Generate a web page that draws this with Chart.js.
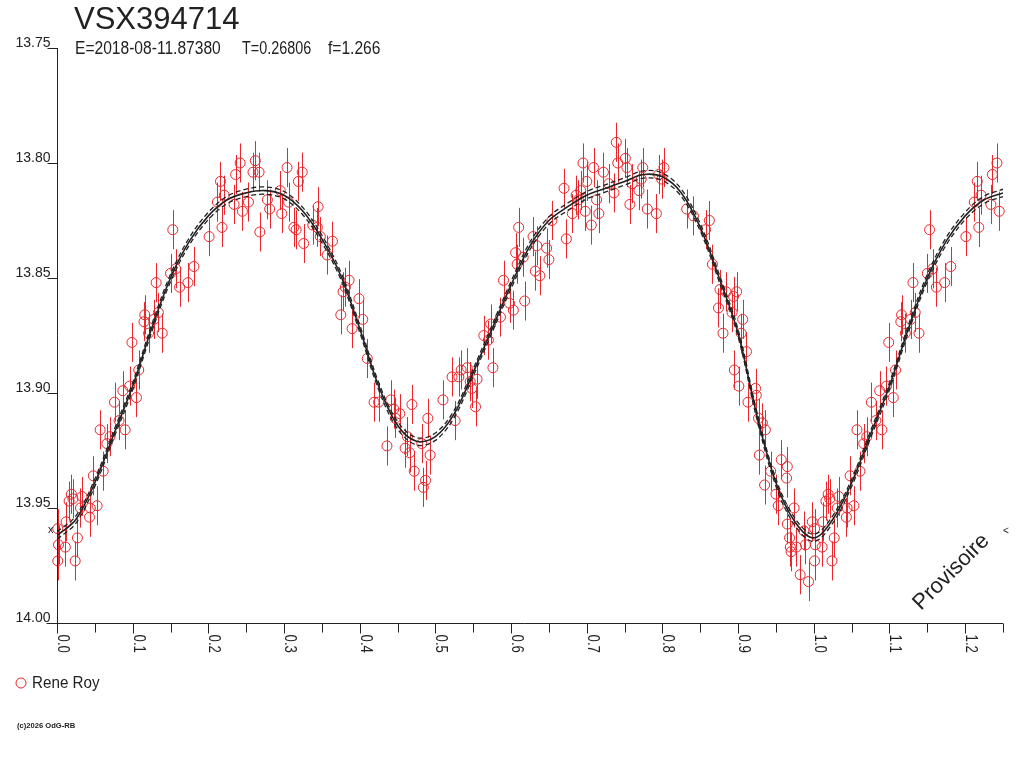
<!DOCTYPE html>
<html>
<head>
<meta charset="utf-8">
<title>VSX394714</title>
<script src="https://cdn.jsdelivr.net/npm/chart.js@4.4.1/dist/chart.umd.min.js"></script>
<style>
  html, body { margin: 0; padding: 0; background: #fff; }
  #wrap { position: relative; width: 1024px; height: 768px; }
</style>
</head>
<body>
<div id="wrap"><canvas id="lc" width="1024" height="768"></canvas></div>
<script>
// --- texts ---
const starName = 'VSX394714'
const ephemParts = ['E=2018-08-11.87380', 'T=0.26806', 'f=1.266']
const observer = 'Rene Roy'
const stamp = '(c)2026 OdG-RB'
const watermark = 'Provisoire'

const obsPhase = [
  0.001,0.002,0.001,0.012,0.011,0.016,0.019,0.021,0.027,0.024,
  0.033,0.031,0.043,0.044,0.053,0.048,0.061,0.057,0.066,0.070,
  0.076,0.082,0.090,0.087,0.096,0.105,0.099,0.108,0.116,0.115,
  0.121,0.128,0.134,0.139,0.131,0.150,0.157,0.162,0.173,0.181,
  0.153,0.201,0.212,0.216,0.221,0.218,0.236,0.234,0.242,0.245,
  0.253,0.259,0.262,0.267,0.268,0.278,0.281,0.297,0.304,0.324,
  0.319,0.295,0.306,0.345,0.313,0.316,0.326,0.338,0.344,0.348,
  0.364,0.357,0.381,0.386,0.378,0.375,0.399,0.404,0.390,0.410,
  0.419,0.425,0.441,0.445,0.453,0.447,0.436,0.460,0.466,0.463,
  0.469,0.472,0.482,0.487,0.484,0.493,0.490,0.510,0.522,0.526,
  0.531,0.534,0.542,0.548,0.553,0.555,0.546,0.576,0.564,0.570,
  0.573,0.586,0.590,0.598,0.603,0.606,0.608,0.610,0.618,0.616,
  0.629,0.632,0.638,0.634,0.647,0.650,0.654,0.673,0.670,0.681,
  0.686,0.689,0.692,0.695,0.700,0.698,0.706,0.709,0.713,0.716,
  0.722,0.729,0.736,0.739,0.741,0.751,0.753,0.757,0.760,0.769,
  0.772,0.774,0.780,0.792,0.795,0.799,0.802,0.832,0.841,0.862,
  0.857,0.866,0.876,0.884,0.874,0.880,0.894,0.898,0.892,0.906,
  0.904,0.911,0.895,0.901,0.923,0.924,0.913,0.927,0.932,0.936,
  0.928,0.943,0.935,0.957,0.965,0.964,0.950,0.953,0.974,0.965,
  0.968,0.969,0.977,0.970,0.982,0.993,0.987,0.998,0.989
]
const obsMag = [
  13.959,13.966,13.973,13.956,13.967,13.947,13.944,13.946,13.963,13.973,
  13.945,13.950,13.954,13.950,13.949,13.936,13.934,13.916,13.922,13.919,
  13.904,13.912,13.916,13.899,13.897,13.902,13.878,13.890,13.866,13.869,
  13.874,13.868,13.865,13.874,13.852,13.848,13.846,13.854,13.852,13.845,
  13.829,13.832,13.817,13.808,13.814,13.828,13.805,13.818,13.800,13.821,
  13.817,13.804,13.799,13.804,13.830,13.816,13.820,13.822,13.802,13.804,
  13.808,13.812,13.817,13.819,13.828,13.829,13.835,13.827,13.828,13.832,
  13.834,13.840,13.854,13.851,13.856,13.866,13.859,13.868,13.872,13.885,
  13.904,13.904,13.903,13.907,13.909,13.911,13.923,13.924,13.926,13.919,
  13.905,13.934,13.922,13.938,13.941,13.927,13.911,13.903,13.893,13.912,
  13.893,13.890,13.889,13.898,13.906,13.894,13.895,13.889,13.875,13.877,
  13.870,13.867,13.851,13.861,13.864,13.839,13.844,13.828,13.860,13.841,
  13.832,13.847,13.849,13.836,13.837,13.842,13.825,13.833,13.811,13.822,
  13.814,13.816,13.812,13.800,13.808,13.821,13.827,13.802,13.816,13.822,
  13.804,13.809,13.813,13.791,13.800,13.798,13.802,13.818,13.809,13.812,
  13.807,13.802,13.820,13.822,13.805,13.807,13.802,13.820,13.823,13.825,
  13.829,13.844,13.855,13.856,13.863,13.874,13.858,13.856,13.865,13.868,
  13.874,13.882,13.890,13.897,13.898,13.901,13.904,13.911,13.913,13.916,
  13.927,13.934,13.940,13.929,13.932,13.937,13.944,13.949,13.950,13.957,
  13.963,13.967,13.967,13.969,13.979,13.982,13.960,13.956,13.966
]
const magErr = 0.0085

// --- fitted curve and its envelope ---
const fitPhase = [
  0.000,0.025,0.050,0.075,0.100,0.125,0.150,0.175,0.200,0.225,
  0.250,0.275,0.300,0.325,0.350,0.375,0.400,0.425,0.450,0.475,
  0.500,0.525,0.550,0.575,0.600,0.625,0.650,0.675,0.700,0.725,
  0.750,0.775,0.800,0.825,0.850,0.875,0.900,0.925,0.950,0.975,1.000
]
const fitMag = [
  13.962,13.955,13.939,13.918,13.897,13.872,13.850,13.834,13.823,13.816,
  13.813,13.812,13.814,13.821,13.833,13.849,13.872,13.897,13.914,13.921,
  13.919,13.909,13.891,13.872,13.853,13.836,13.825,13.819,13.814,13.811,
  13.808,13.805,13.806,13.813,13.828,13.850,13.874,13.910,13.939,13.956,13.963
]
const fitSigma = 0.0016

// --- axes ---
const phaseMax = 1.25
const magTop = 13.75
const magBottom = 14.00
const xMajorTicks = [0.0,0.1,0.2,0.3,0.4,0.5,0.6,0.7,0.8,0.9,1.0,1.1,1.2]
const xTickLabels = ['0.0','0.1','0.2','0.3','0.4','0.5','0.6','0.7','0.8','0.9','1.0','1.1','1.2']
const xMinorTicks = [0.05,0.15,0.25,0.35,0.45,0.55,0.65,0.75,0.85,0.95,1.05,1.15,1.25]
const yTicks = [13.75,13.80,13.85,13.90,13.95,14.00]
const yTickLabels = ['13.75','13.80','13.85','13.90','13.95','14.00']

const red = '#e8262c'
const ink = '#222222'

// phases below 0.25 are shown again after 1.0
let obsPoints = []
obsPhase.forEach((ph, i) => {
    obsPoints.push({ x: ph, y: obsMag[i] })
    if (ph + 1 <= phaseMax) obsPoints.push({ x: ph + 1, y: obsMag[i] })
})
let fitPts = fitPhase.map((ph, i) => ({ x: ph, y: fitMag[i] }))
fitPhase.forEach((ph, i) => {
    if (ph > 0 && ph + 1 <= phaseMax) fitPts.push({ x: ph + 1, y: fitMag[i] })
})
const fitHi = fitPts.map((p) => ({ x: p.x, y: p.y - fitSigma }))
const fitLo = fitPts.map((p) => ({ x: p.x, y: p.y + fitSigma }))

function txt(ctx, s, x, y, font, sx) {
    ctx.save()
    ctx.translate(x, y)
    ctx.scale(sx || 1, 1)
    ctx.font = font
    ctx.fillText(s, 0, 0)
    ctx.restore()
}

const decor = {
    id: 'decor',
    beforeDatasetsDraw(chart) {
        const { ctx, scales } = chart
        ctx.save()
        ctx.strokeStyle = red
        ctx.lineWidth = 1
        obsPoints.forEach((p) => {
            const px = Math.round(scales.x.getPixelForValue(p.x)) + 0.5
            ctx.beginPath()
            ctx.moveTo(px, scales.y.getPixelForValue(p.y - magErr))
            ctx.lineTo(px, scales.y.getPixelForValue(p.y + magErr))
            ctx.stroke()
        })
        ctx.restore()
    },
    afterDraw(chart) {
        const { ctx, scales, chartArea } = chart
        const xs = scales.x, ys = scales.y
        const axisY = Math.round(ys.getPixelForValue(magBottom)) + 0.5
        const axisX = Math.round(xs.getPixelForValue(0)) + 0.5
        ctx.save()
        ctx.strokeStyle = ink
        ctx.fillStyle = ink
        ctx.lineWidth = 1
        ctx.beginPath()
        ctx.moveTo(axisX - 11, axisY)
        ctx.lineTo(chartArea.right, axisY)
        ctx.moveTo(axisX, Math.round(ys.getPixelForValue(magTop)))
        ctx.lineTo(axisX, axisY)
        xMajorTicks.forEach((v) => {
            const px = Math.round(xs.getPixelForValue(v)) + 0.5
            ctx.moveTo(px, axisY); ctx.lineTo(px, axisY + 10)
        })
        xMinorTicks.forEach((v) => {
            const px = Math.round(xs.getPixelForValue(v)) + 0.5
            ctx.moveTo(px, axisY); ctx.lineTo(px, axisY + 9)
        })
        yTicks.forEach((v) => {
            const py = Math.round(ys.getPixelForValue(v)) + 0.5
            ctx.moveTo(axisX - 10, py); ctx.lineTo(axisX, py)
        })
        ctx.stroke()

        // y labels sit just above their tick
        ctx.textAlign = 'right'
        ctx.textBaseline = 'alphabetic'
        yTicks.forEach((v, i) => {
            const py = Math.round(ys.getPixelForValue(v))
            ctx.save()
            ctx.translate(axisX - 7, py - 1)
            ctx.font = '14px "Liberation Sans", Arial, sans-serif'
            ctx.fillText(yTickLabels[i], 0, 0)
            ctx.restore()
        })
        // x labels read downwards
        ctx.textAlign = 'left'
        xMajorTicks.forEach((v, i) => {
            const px = Math.round(xs.getPixelForValue(v))
            ctx.save()
            ctx.translate(px + 1, axisY + 11)
            ctx.rotate(Math.PI / 2)
            ctx.scale(0.83, 1)
            ctx.font = '16px "Liberation Sans", Arial, sans-serif'
            ctx.fillText(xTickLabels[i], 0, 0)
            ctx.restore()
        })

        // title block
        txt(ctx, starName, 74, 29, '31px "Liberation Sans", Arial, sans-serif', 1)
        const ephemX = [75, 242, 328]
        const ephemScale = [0.866, 0.8, 0.866]
        ephemParts.forEach((s, i) => txt(ctx, s, ephemX[i], 54, '18px "Liberation Sans", Arial, sans-serif', ephemScale[i]))

        // curve end markers
        txt(ctx, 'x', 48, 533, '11px "Liberation Sans", Arial, sans-serif', 1)
        txt(ctx, '<', 1003, 534, '10px "Liberation Sans", Arial, sans-serif', 1)

        // legend
        ctx.strokeStyle = red
        ctx.beginPath()
        ctx.arc(21, 683, 5, 0, Math.PI * 2)
        ctx.stroke()
        txt(ctx, observer, 32, 688, '16px "Liberation Sans", Arial, sans-serif', 0.95)

        txt(ctx, stamp, 17, 728, 'bold 8px "Liberation Sans", Arial, sans-serif', 0.95)

        // watermark
        ctx.save()
        ctx.translate(921, 611)
        ctx.rotate(-Math.PI / 4)
        ctx.font = '22px "Liberation Sans", Arial, sans-serif'
        ctx.fillStyle = ink
        ctx.fillText(watermark, 0, 0)
        ctx.restore()
        ctx.restore()
    },
}

const ctx = document.getElementById('lc').getContext('2d')
const lcChart = new Chart(ctx, {
    type: 'scatter',
    data: {
        datasets: [
            {
                data: fitPts, showLine: true, pointRadius: 0,
                borderColor: ink, borderWidth: 1.6, tension: 0.35, order: 0,
            },
            {
                data: fitHi, showLine: true, pointRadius: 0,
                borderColor: ink, borderWidth: 1.3, borderDash: [5, 3],
                tension: 0.35, order: 0,
            },
            {
                data: fitLo, showLine: true, pointRadius: 0,
                borderColor: ink, borderWidth: 1.3, borderDash: [5, 3],
                tension: 0.35, order: 0,
            },
            {
                data: obsPoints, pointRadius: 5, pointHoverRadius: 5,
                pointStyle: 'circle', borderColor: red, borderWidth: 1,
                backgroundColor: 'rgba(0,0,0,0)', clip: false, order: 1,
            },
        ],
    },
    options: {
        responsive: false,
        devicePixelRatio: 1,
        animation: false,
        layout: { padding: { left: 57, top: 48, right: 21, bottom: 145 } },
        plugins: { legend: { display: false }, tooltip: { enabled: false } },
        scales: {
            x: { type: 'linear', display: false, min: 0, max: phaseMax },
            y: { type: 'linear', display: false, min: magTop, max: magBottom, reverse: true },
        },
    },
    plugins: [decor],
})
</script>
</body>
</html>
